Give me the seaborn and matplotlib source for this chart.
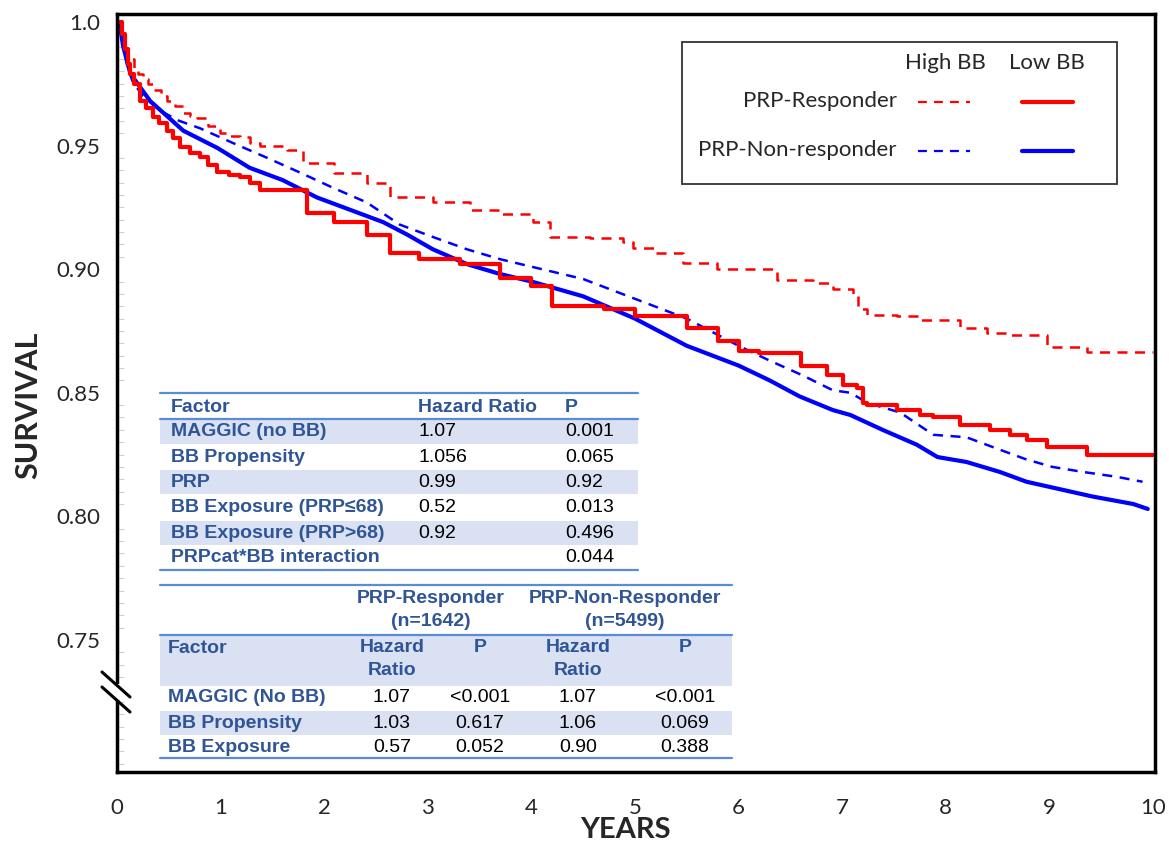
import matplotlib
matplotlib.use("Agg")
import matplotlib.pyplot as plt
import seaborn as sns
from matplotlib.patches import Rectangle
from matplotlib.lines import Line2D

# ---- data ----
years_resp_high = [0, 0.05, 0.07, 0.10, 0.16, 0.20, 0.25, 0.30, 0.35, 0.42, 0.48, 0.56, 0.64, 0.70, 0.77, 0.88,
                   0.99, 1.08, 1.19, 1.28, 1.38, 1.64, 1.80,
                   2.09, 2.41, 2.64, 3.05, 3.41, 3.70, 4.02, 4.18, 4.57, 4.88, 4.98, 5.18, 5.46, 5.79,
                   6.37, 6.72, 6.91, 7.10, 7.15, 7.24, 7.53, 7.75, 8.14, 8.40, 8.59, 8.98, 9.36, 10.0]
surv_resp_high = [1.0, 0.995, 0.990, 0.985, 0.981, 0.979, 0.977, 0.975, 0.9725, 0.970, 0.968, 0.966, 0.963, 0.962, 0.961, 0.958,
                  0.955, 0.954, 0.9535, 0.951, 0.950, 0.948, 0.943,
                  0.939, 0.935, 0.929, 0.927, 0.924, 0.9225, 0.919, 0.913, 0.9125, 0.911, 0.9085, 0.9065, 0.9025, 0.900,
                  0.8957, 0.8945, 0.892, 0.889, 0.884, 0.8815, 0.881, 0.8795, 0.876, 0.874, 0.8734, 0.8686, 0.8666, 0.8666]

years_resp_low = [0, 0.05, 0.08, 0.11, 0.13, 0.16, 0.22, 0.28, 0.35, 0.41, 0.48, 0.54, 0.61, 0.70, 0.80, 0.88,
                  0.97, 1.08, 1.19, 1.28, 1.38, 1.83, 2.09, 2.41, 2.64,
                  2.92, 3.31, 3.70, 4.0, 4.2, 4.7, 5.0, 5.5, 5.8, 6.0, 6.2, 6.6, 6.85, 7.01, 7.14, 7.20, 7.24,
                  7.53, 7.75, 7.88, 8.14, 8.43, 8.62, 8.78, 8.98, 9.36, 10.0]
surv_resp_low = [1.0, 0.995, 0.989, 0.983, 0.979, 0.975, 0.968, 0.965, 0.9616, 0.959, 0.956, 0.953, 0.9495, 0.947, 0.9454, 0.942,
                 0.9393, 0.938, 0.9373, 0.935, 0.932, 0.9228, 0.919, 0.914, 0.9066,
                 0.904, 0.902, 0.8965, 0.893, 0.885, 0.884, 0.881, 0.876, 0.871, 0.867, 0.866, 0.861, 0.857, 0.853, 0.852, 0.846, 0.845,
                 0.843, 0.841, 0.840, 0.837, 0.835, 0.833, 0.831, 0.828, 0.825, 0.825]

years_nonresp_high = [0, 0.03, 0.06, 0.10, 0.15, 0.25, 0.42, 0.60, 0.80, 1.12, 1.45, 1.77, 2.08, 2.41, 2.73, 3.05,
                      3.38, 3.70, 4.0, 4.5, 5.0, 5.5, 6.0, 6.3, 6.62, 6.91, 7.08, 7.24, 7.56, 7.88, 8.20, 8.52,
                      8.78, 9.03, 9.32, 9.65, 9.90]
surv_nonresp_high = [1.0, 0.998, 0.990, 0.982, 0.976, 0.970, 0.964, 0.960, 0.957, 0.951, 0.945, 0.939, 0.933, 0.927, 0.918, 0.913,
                     0.908, 0.904, 0.901, 0.896, 0.888, 0.880, 0.869, 0.863, 0.857, 0.851, 0.850, 0.846, 0.842, 0.833, 0.832, 0.827,
                     0.823, 0.820, 0.818, 0.816, 0.814]

years_nonresp_low = [0, 0.03, 0.06, 0.13, 0.32, 0.64, 0.97, 1.28, 1.60, 1.93, 2.25, 2.57, 2.80, 3.05, 3.38, 3.70,
                     4.0, 4.5, 5.0, 5.5, 6.0, 6.3, 6.59, 6.91, 7.08, 7.39, 7.72, 7.92, 8.20, 8.52, 8.78, 9.10,
                     9.42, 9.81, 9.95]
surv_nonresp_low = [1.0, 0.998, 0.990, 0.979, 0.968, 0.956, 0.949, 0.941, 0.936, 0.929, 0.924, 0.919, 0.914, 0.908, 0.902, 0.898,
                    0.895, 0.889, 0.880, 0.869, 0.861, 0.855, 0.8485, 0.843, 0.841, 0.835, 0.829, 0.824, 0.822, 0.818, 0.814, 0.811,
                    0.808, 0.805, 0.803]

x_ticks = list(range(0, 11))
y_ticks = [0.75, 0.80, 0.85, 0.90, 0.95, 1.0]
y_tick_labels = ['0.75', '0.80', '0.85', '0.90', '0.95', '1.0']

legend_rows = ['PRP-Responder', 'PRP-Non-responder']
legend_cols = ['High BB', 'Low BB']

t1_header = ['Factor', 'Hazard Ratio', 'P']
t1_factors = ['MAGGIC (no BB)', 'BB Propensity', 'PRP', 'BB Exposure (PRP≤68)',
              'BB Exposure (PRP>68)', 'PRPcat*BB interaction']
t1_hr = ['1.07', '1.056', '0.99', '0.52', '0.92', '']
t1_p = ['0.001', '0.065', '0.92', '0.013', '0.496', '0.044']

t2_groups = ['PRP-Responder\n(n=1642)', 'PRP-Non-Responder\n(n=5499)']
t2_factors = ['MAGGIC (No BB)', 'BB Propensity', 'BB Exposure']
t2_resp_hr = ['1.07', '1.03', '0.57']
t2_resp_p = ['<0.001', '0.617', '0.052']
t2_non_hr = ['1.07', '1.06', '0.90']
t2_non_p = ['<0.001', '0.069', '0.388']

# ---- figure ----
sns.set_style("white")
plt.rcParams['font.family'] = ['Lato', 'DejaVu Sans']
plt.rcParams['ytick.direction'] = 'in'

W, H = 1169, 846
fig = plt.figure(figsize=(W / 100, H / 100), dpi=100)
ax = fig.add_axes([117 / W, (H - 772) / H, (1155 - 117) / W, (772 - 14) / H])

RED, BLUE = '#FF0000', '#0000FF'
sns.lineplot(x=years_resp_high, y=surv_resp_high, ax=ax, color=RED, lw=1.8,
             drawstyle='steps-post', errorbar=None)
ax.lines[-1].set_dashes([4, 3])
sns.lineplot(x=years_nonresp_high, y=surv_nonresp_high, ax=ax, color=BLUE, lw=1.8, errorbar=None)
ax.lines[-1].set_dashes([4, 3])
sns.lineplot(x=years_nonresp_low, y=surv_nonresp_low, ax=ax, color=BLUE, lw=3.0, errorbar=None)
sns.lineplot(x=years_resp_low, y=surv_resp_low, ax=ax, color=RED, lw=3.0,
             drawstyle='steps-post', errorbar=None)

ax.set_xlim(0, 10.02)
ax.set_ylim(0.6966, 1.0032)
ax.set_xticks(x_ticks)
ax.set_yticks(y_ticks)
ax.set_yticklabels(y_tick_labels)
ax.set_yticks([0.70 + 0.005 * i for i in range(61)], minor=True)
ax.tick_params(axis='both', which='major', length=0, labelsize=16)
ax.tick_params(axis='x', pad=19)
ax.tick_params(axis='y', pad=12)
ax.tick_params(axis='y', which='minor', direction='in', length=5, width=0.8, color='#D0D0D0', left=True)
for sp in ax.spines.values():
    sp.set_color('black')
    sp.set_linewidth(2.5)
ax.set_xlabel('YEARS', fontsize=21, fontweight='bold')
ax.set_ylabel('SURVIVAL', fontsize=22, fontweight='bold')
ax.xaxis.set_label_coords(0.49, -0.060)
ax.yaxis.set_label_coords(-0.072, 0.484)


def fx(px):
    return px / W


def fy(py):
    return 1 - py / H


# axis break on the left spine
fig.add_artist(Rectangle((fx(112), fy(700)), 10 / W, 16 / H, transform=fig.transFigure,
                         facecolor='white', edgecolor='none', zorder=5))
for y0 in (672, 687):
    fig.add_artist(Line2D([fx(102), fx(130)], [fy(y0), fy(y0 + 25)], transform=fig.transFigure,
                          color='black', lw=2.2, zorder=6))

# ---- legend box ----
fig.add_artist(Rectangle((fx(682), fy(184)), (1117 - 682) / W, (184 - 42) / H,
                         transform=fig.transFigure, facecolor='white', edgecolor='#333333', lw=1.3, zorder=4))
for txt, cx in zip(legend_cols, (945, 1047)):
    fig.text(fx(cx), fy(63), txt, ha='center', va='center', fontsize=16, zorder=7)
for txt, cy, col in zip(legend_rows, (101, 150), (RED, BLUE)):
    fig.text(fx(897), fy(cy), txt, ha='right', va='center', fontsize=16, zorder=7)
    dash = Line2D([fx(918), fx(970)], [fy(cy + 1)] * 2, transform=fig.transFigure, color=col, lw=1.6, zorder=7)
    dash.set_dashes([4, 3.2])
    fig.add_artist(dash)
    fig.add_artist(Line2D([fx(1022), fx(1073)], [fy(cy + 1)] * 2, transform=fig.transFigure,
                          color=col, lw=3.0, zorder=7))

# ---- tables ----
HDR = '#2F5597'
SHADE = '#D9E1F2'
RULE = '#5B8BD5'
TFONT = 'Liberation Sans'


def shade(x0, x1, y0, y1):
    fig.add_artist(Rectangle((fx(x0), fy(y1)), (x1 - x0) / W, (y1 - y0) / H,
                             transform=fig.transFigure, facecolor=SHADE, edgecolor='none', zorder=3))


def rule(x0, x1, y):
    fig.add_artist(Line2D([fx(x0), fx(x1)], [fy(y), fy(y)], transform=fig.transFigure,
                          color=RULE, lw=1.6, zorder=4))


def ttext(x, y, s, bold=False, ha='left', va='center'):
    fig.text(fx(x), fy(y), s, ha=ha, va=va, fontsize=14, family=TFONT,
             fontweight='bold' if bold else 'normal', color=HDR if bold else 'black',
             zorder=7, linespacing=1.48)


# table 1
row_y1 = [432, 457, 482, 508, 533, 558]
for i, y in enumerate(row_y1):
    if i % 2 == 0:
        shade(160, 638, y - 12, y + 12)
rule(160, 638, 393)
rule(160, 638, 419)
rule(160, 638, 570)
ttext(171, 407, t1_header[0], bold=True)
ttext(418, 407, t1_header[1], bold=True)
ttext(565, 407, t1_header[2], bold=True)
for y, f, hr, p in zip(row_y1, t1_factors, t1_hr, t1_p):
    ttext(171, y, f, bold=True)
    ttext(418, y, hr)
    ttext(565, y, p)

# table 2
shade(160, 732, 635, 686)
shade(160, 732, 711, 735)
rule(160, 732, 585)
rule(160, 732, 635)
rule(160, 732, 758)
ttext(431, 610, t2_groups[0], bold=True, ha='center')
ttext(625, 610, t2_groups[1], bold=True, ha='center')
ttext(168, 648, 'Factor', bold=True)
for cx, lab in zip((392, 480, 578, 685), ('Hazard\nRatio', 'P', 'Hazard\nRatio', 'P')):
    ttext(cx, 639, lab, bold=True, ha='center', va='top')
row_y2 = [698, 723, 747]
for i, y in enumerate(row_y2):
    ttext(168, y, t2_factors[i], bold=True)
    ttext(392, y, t2_resp_hr[i], ha='center')
    ttext(480, y, t2_resp_p[i], ha='center')
    ttext(578, y, t2_non_hr[i], ha='center')
    ttext(685, y, t2_non_p[i], ha='center')

fig.savefig('out.png', dpi=100)
